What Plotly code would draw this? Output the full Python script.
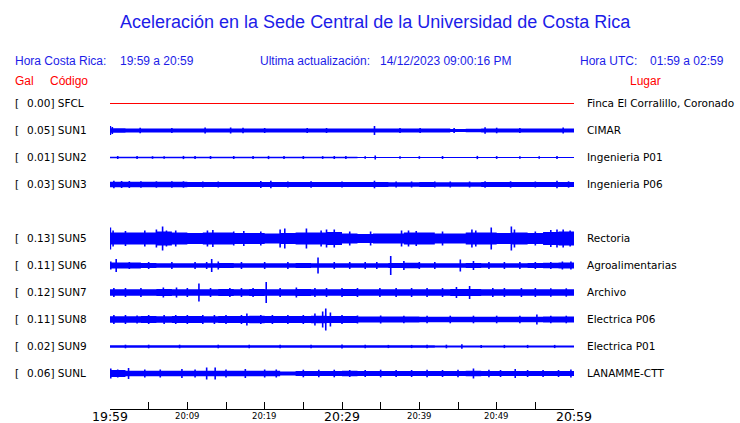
import plotly.graph_objects as go

# ---------------- data ----------------
codes = ["SFCL", "SUN1", "SUN2", "SUN3", "SUN5", "SUN6", "SUN7", "SUN8", "SUN9", "SUNL"]
places = ["Finca El Corralillo, Coronado", "CIMAR", "Ingenieria P01", "Ingenieria P06",
          "Rectoria", "Agroalimentarias", "Archivo", "Electrica P06", "Electrica P01", "LANAMME-CTT"]
peak_gal = [0.00, 0.05, 0.01, 0.03, 0.13, 0.11, 0.12, 0.11, 0.02, 0.06]
row_index = [0, 1, 2, 3, 5, 6, 7, 8, 9, 10]   # SUN4 slot is empty

# minutes after 19:59 for the envelope samples (every 2 min)
env_t = [0, 2, 4, 6, 8, 10, 12, 14, 16, 18, 20, 22, 24, 26, 28, 30,
         32, 34, 36, 38, 40, 42, 44, 46, 48, 50, 52, 54, 56, 58, 60]

SFCL_env = [0, 0, 0, 0, 0, 0, 0, 0, 0, 0, 0, 0, 0, 0, 0, 0, 0, 0, 0, 0, 0, 0, 0, 0, 0, 0, 0, 0, 0, 0, 0]
SUN1_env = [2.3, 2, 2, 2, 2, 2, 2, 2, 2, 2, 2, 2, 2, 2, 2, 2, 2, 2, 2, 2, 2, 2, 1.6, 1.8, 2, 2, 2, 2, 2, 2, 2]
SUN2_env = [0.7, 0.7, 0.7, 0.7, 0.7, 0.7, 0.7, 0.7, 0.7, 0.7, 0.7, 0.7, 0.7, 0.7, 0.7, 0.7,
            0.6, 0.6, 0.6, 0.6, 0.6, 0.6, 0.6, 0.6, 0.6, 0.6, 0.6, 0.6, 0.6, 0.6, 0.6]
SUN3_env = [2.8, 2.8, 2.8, 2.8, 2.8, 2.6, 2.6, 2.6, 2.5, 2.5, 2.5, 2.5, 2.4, 2.4, 2.4, 2.4,
            2.4, 2.4, 2.3, 2.3, 2.4, 2.3, 2.3, 2.3, 2.4, 2.4, 2.4, 2.4, 2.5, 2.5, 2.5]
SUN5_env = [6, 6, 6, 7, 6, 5.5, 6, 6, 5.5, 5.5, 5, 5.5, 6, 6, 6.5, 5,
            4.5, 5, 5, 6, 6, 5, 5, 6, 6, 5.5, 6, 5.5, 6.5, 7, 7]
SUN6_env = [3, 3, 2.5, 2.3, 2.3, 2.3, 2.3, 2.5, 2.3, 2.3, 2.3, 2.3, 2.5, 2.3, 2.3, 2.3,
            2.3, 2.3, 2.5, 2.8, 2.3, 2.3, 2.3, 2.5, 2.3, 2.3, 2.3, 2.5, 2.8, 3, 3]
SUN7_env = [3.3, 3.3, 3.3, 3.5, 3.3, 3.3, 3.3, 3.5, 3.3, 3.5, 3.3, 3.3, 3.5, 3.3, 3.3, 3.5,
            3.3, 3.3, 3.3, 3.3, 3.3, 3.3, 3.5, 3.5, 3.3, 3.3, 3.3, 3.3, 3.3, 3.3, 3.3]
SUN8_env = [3.3, 3.3, 3.5, 3.3, 3.5, 3.5, 3.3, 3.5, 3.5, 3.8, 3.5, 3.5, 3.5, 3.8, 3.5, 3.5,
            3, 3, 3, 3, 2.8, 2.8, 2.8, 2.8, 2.8, 2.8, 2.8, 2.8, 3, 3, 3]
SUN9_env = [1.3, 1.3, 1.3, 1.3, 1.3, 1.3, 1.3, 1.3, 1.3, 1.3, 1.3, 1.3, 1.3, 1.3, 1.3, 1.3,
            1.3, 1.3, 1.2, 1.2, 1.2, 1.0, 1.0, 1.0, 1.0, 1.0, 1.0, 1.0, 1.0, 1.0, 1.0]
SUNL_env = [3.5, 2.8, 2.8, 2.8, 2.8, 2.8, 2.8, 2.8, 2.8, 2.8, 2.8, 2.0, 2.6, 2.6, 2.6, 2.8,
            2.6, 2.6, 2.6, 2.6, 2.6, 2.6, 2.6, 2.8, 2.6, 2.6, 2.6, 2.6, 2.6, 2.6, 2.8]

# peaks (minute, half amplitude)
SUN1_pk_t = [0.05, 0.3, 3.9, 8.0, 12.3, 15.6, 17.2, 20.0, 25.5, 28.0, 34.2, 37.5, 40.1, 44.5, 48.5, 50.0, 53.0, 58.6]
SUN1_pk_a = [4.5, 3.5, 2.8, 2.5, 3, 3, 2.8, 2.5, 2.5, 2.5, 4.5, 2.6, 2.5, 2.5, 3.2, 2.8, 2.5, 3]
SUN2_pk_t = [1.0, 3.5, 5.5, 7.0, 9.5, 11.0, 13.0, 16.0, 18.5, 20.5, 22.5, 25.0, 27.5, 29.0, 30.5,
             33.0, 34.3, 37.5, 40.0, 43.0, 47.5, 50.0, 53.0, 55.5, 57.8]
SUN2_pk_a = [1.5, 1.5, 1.3, 1.3, 1.6, 1.6, 1.5, 1.5, 1.5, 1.6, 1.5, 1.5, 1.4, 1.5, 1.6,
             1.2, 2.0, 1.3, 1.3, 1.5, 1.6, 1.4, 1.3, 1.3, 1.6]
SUN3_pk_t = [0.5, 1.5, 2.5, 4, 6.0, 8, 9.5, 12, 14, 19.5, 20.8, 23, 26, 30, 34.2, 37, 39, 42, 44,
             46.5, 48.5, 51.8, 55, 57.8, 59.3]
SUN3_pk_a = [3.8, 3.5, 3.5, 3.2, 3.2, 3.2, 3.2, 3, 3, 3.5, 3.8, 3, 3.2, 3, 3.8, 3, 3, 3, 3,
             3, 3.2, 3.2, 3, 3.8, 3.2]
SUN5_pk_t = [0.05, 0.4, 2, 4.5, 6.0, 6.8, 7.3, 8.5, 12.6, 13.3, 16, 17.3, 19.5, 22.0, 22.6, 25.4,
             27.3, 28.0, 29.0, 31, 33.7, 37.7, 38.6, 39.6, 43, 46.8, 47.3, 49.3, 51.9, 52.3,
             55, 57.0, 57.8, 58.6, 59.5]
SUN5_pk_a = [11, 8, 7.5, 8, 9, 12, 8, 8, 8, 8.5, 7, 7.5, 7, 9, 10, 10,
             8, 9, 9, 7, 7, 8, 8, 7.5, 7, 9, 8, 11, 12, 9,
             7, 8.5, 9, 9, 8]
SUN6_pk_t = [0.1, 0.8, 2.5, 5, 8, 11, 12.5, 13.15, 14, 17, 20, 23, 26.9, 29, 31, 33, 34.5, 36.3,
             38, 40, 42, 45.3, 47, 49, 51, 53, 55, 57, 58.5, 59.6]
SUN6_pk_a = [4, 6.5, 3.5, 3.5, 3.5, 3.5, 3.5, 6.5, 4, 3.5, 3.5, 3.5, 8, 3.5, 3.5, 3.5, 3.5, 9.5,
             4.5, 3.5, 3.5, 6, 4.5, 3.5, 3.5, 3.5, 3.5, 3.5, 4, 4]
SUN7_pk_t = [0.5, 2, 4, 6.9, 8.6, 10, 11.5, 13, 15.5, 17, 18.5, 20.2, 22, 24.1, 26.5, 28, 30, 32,
             34.9, 37, 39, 41, 43, 44.8, 46.5, 49.5, 51, 53.2, 55, 57, 59]
SUN7_pk_a = [4.5, 4.5, 4.5, 5, 5, 4.5, 9, 4.5, 4.5, 4.5, 4.5, 10.5, 4.5, 5, 4.5, 4.5, 4.5, 4.5,
             4.5, 4.5, 4.5, 4.5, 4.5, 5.5, 6.5, 4.5, 4.5, 4.5, 4.5, 4.2, 4.2]
SUN8_pk_t = [0.5, 2, 3.5, 5, 7, 8.5, 10, 12, 13.5, 15, 17, 17.7, 19.5, 21, 23, 25, 26.5, 27.5,
             27.9, 28.5, 30, 32, 35, 38, 41, 44, 47, 50, 53, 55.2, 57, 59]
SUN8_pk_a = [4.5, 4.5, 4, 4.5, 4.5, 4.5, 4.5, 4.5, 4.5, 4.5, 4.5, 6, 4.5, 4.5, 4.5, 4.5, 6, 8,
             11, 7, 4.5, 4, 4, 3.8, 3.8, 3.8, 3.8, 3.8, 3.8, 5, 3.8, 3.8]
SUN9_pk_t = [2, 5, 9, 14, 18, 22, 26, 30, 33, 36, 39, 41, 43.5, 45.5, 48, 51, 54, 57.5]
SUN9_pk_a = [1.8, 1.8, 1.8, 1.8, 1.8, 1.8, 1.8, 2, 1.8, 1.6, 1.6, 1.8, 1.8, 2.3, 1.6, 1.6, 1.6, 1.6]
SUNL_pk_t = [0.1, 1, 2.4, 4.5, 6.5, 9.3, 11, 12.5, 13.6, 15, 17.5, 20, 21.5, 25, 27, 29, 31, 33,
             35, 37, 39, 41, 43, 45, 47, 49, 50.5, 52.4, 54, 56, 58, 59.6]
SUNL_pk_a = [5, 4, 5.5, 4, 4, 4.5, 4, 6, 6, 4, 4.5, 4, 4, 3.8, 3.8, 3.8, 3.5, 3.5,
             3.8, 3.5, 3.5, 3.8, 3.5, 3.8, 5, 3.8, 3.5, 4.5, 3.5, 3.5, 3.5, 4]

tick_minutes = [0, 5, 10, 15, 20, 25, 30, 35, 40, 45, 50, 55, 60]
label_minutes = [0, 10, 20, 30, 40, 50, 60]
label_texts = ["19:59", "20:09", "20:19", "20:29", "20:39", "20:49", "20:59"]
label_big = [True, False, False, True, False, False, True]

envs = [SFCL_env, SUN1_env, SUN2_env, SUN3_env, SUN5_env, SUN6_env, SUN7_env, SUN8_env, SUN9_env, SUNL_env]
pks = [([], []), (SUN1_pk_t, SUN1_pk_a), (SUN2_pk_t, SUN2_pk_a), (SUN3_pk_t, SUN3_pk_a),
       (SUN5_pk_t, SUN5_pk_a), (SUN6_pk_t, SUN6_pk_a), (SUN7_pk_t, SUN7_pk_a),
       (SUN8_pk_t, SUN8_pk_a), (SUN9_pk_t, SUN9_pk_a), (SUNL_pk_t, SUNL_pk_a)]

# ---------------- layout geometry ----------------
W, H = 740, 423
PL, PR, PT, PB = 110, 574, 90, 409      # plot area in pixels
ROW = 27                                 # pixel spacing of rows
FIRST_ROW = 103
BLUE = "#0000ff"
HEAD_BLUE = "#1c1ce8"
RED = "#ff0000"


def xp(px):
    return (px - PL) / (PR - PL)


def yp(py):
    return (PB - py) / (PB - PT)


def row_y(i):
    return -i * ROW


fig = go.Figure()

for k, code in enumerate(codes):
    c = row_y(row_index[k])
    env = envs[k]
    if code == "SFCL":
        fig.add_trace(go.Scatter(x=[env_t[0], env_t[-1]], y=[c, c], mode="lines",
                                 line=dict(color=RED, width=1), hoverinfo="skip"))
        continue
    fig.add_trace(go.Scatter(x=env_t, y=[c - a for a in env], mode="lines",
                             line=dict(width=0, shape="hv", color=BLUE), hoverinfo="skip"))
    fig.add_trace(go.Scatter(x=env_t, y=[c + a for a in env], mode="lines", fill="tonexty",
                             fillcolor=BLUE, line=dict(width=0, shape="hv", color=BLUE),
                             hoverinfo="skip"))
    pt, pa = pks[k]
    xs, ys = [], []
    for t, a in zip(pt, pa):
        xs += [t, t, None]
        ys += [c - a, c + a, None]
    fig.add_trace(go.Scatter(x=xs, y=ys, mode="lines", line=dict(color=BLUE, width=1.6),
                             hoverinfo="skip"))

ann = []
HF = "Liberation Sans, Arial, sans-serif"
DF = "DejaVu Sans, sans-serif"


def txt(text, x, y, size, color, family, xanchor="left"):
    ann.append(dict(text=text, x=xp(x), y=yp(y), xref="paper", yref="paper",
                    xanchor=xanchor, yanchor="middle", showarrow=False,
                    font=dict(size=size, color=color, family=family)))


txt("Aceleración en la Sede Central de la Universidad de Costa Rica", 375, 22, 18, HEAD_BLUE, HF, "center")
txt("Hora Costa Rica:", 13, 61, 12, HEAD_BLUE, HF)
txt("19:59 a 20:59", 118, 61, 12, HEAD_BLUE, HF)
txt("Ultima actualización:", 258, 61, 12, HEAD_BLUE, HF)
txt("14/12/2023 09:00:16 PM", 378, 61, 12, HEAD_BLUE, HF)
txt("Hora UTC:", 578, 61, 12, HEAD_BLUE, HF)
txt("01:59 a 02:59", 648, 61, 12, HEAD_BLUE, HF)
txt("Gal", 13, 81, 12, RED, HF)
txt("Código", 48, 81, 12, RED, HF)
txt("Lugar", 628, 81, 12, RED, HF)

for k, code in enumerate(codes):
    py_ = FIRST_ROW + row_index[k] * ROW
    txt("[", 13, py_, 10.5, "#000000", DF)
    txt(f"{peak_gal[k]:.2f}] {code}", 25, py_, 10.5, "#000000", DF)
    txt(places[k], 585, py_, 10.5, "#000000", DF)

for m, lab, big in zip(label_minutes, label_texts, label_big):
    ann.append(dict(text=lab, x=m, y=yp(416), xref="x", yref="paper", xanchor="center",
                    yanchor="middle", showarrow=False,
                    font=dict(size=12.5 if big else 8.5, color="#000000", family=DF)))

fig.update_layout(
    width=W, height=H,
    margin=dict(l=PL, r=W - PR, t=PT, b=H - PB, pad=0),
    paper_bgcolor="white", plot_bgcolor="white",
    showlegend=False,
    annotations=ann,
    xaxis=dict(range=[0, 60], tickvals=tick_minutes, showticklabels=False, ticks="inside",
               ticklen=7, tickcolor="#000000", tickwidth=1, showline=True, linecolor="#000000",
               linewidth=1, showgrid=False, zeroline=False, fixedrange=True),
    yaxis=dict(range=[FIRST_ROW - PB + 0.5, FIRST_ROW - PT + 0.5], visible=False, showgrid=False,
               zeroline=False, fixedrange=True),
)

fig.write_html("out.html", config={"displayModeBar": False},
               post_script="document.body.style.margin='0';document.body.style.overflow='hidden';")
